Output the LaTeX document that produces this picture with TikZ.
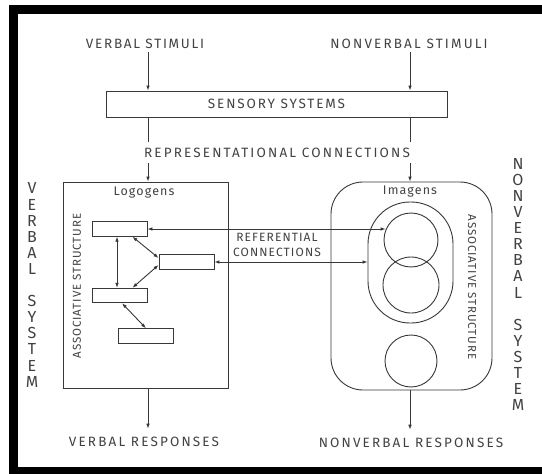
\documentclass[tikz,border=0pt]{standalone}
\usepackage{fontspec}
\setmainfont{Fira Sans}
\newfontfamily\fsSpaced[LetterSpace=16]{Fira Sans}
\newfontfamily\fsWide[LetterSpace=14]{Fira Sans}
\newfontfamily\fsMid[LetterSpace=13]{Fira Sans}
\newfontfamily\fsLite[LetterSpace=9]{Fira Sans}
\newfontfamily\fsTight[LetterSpace=8]{Fira Sans}
\usetikzlibrary{arrows.meta,calc}
\definecolor{ink}{gray}{0.22}
\definecolor{txtc}{gray}{0.26}
\begin{document}
\begin{tikzpicture}[x=1pt,y=-1pt,
  line width=0.9pt,
  every node/.style={text=txtc},
  txt/.style={font=\fsSpaced\fontsize{13.5}{15}\selectfont, inner sep=3pt},
  small/.style={font=\fsLite\fontsize{12.5}{13}\selectfont, inner sep=2pt},
  rot/.style={font=\fsTight\fontsize{11.5}{13}\selectfont, inner sep=2pt},
  letters/.style={font=\fontsize{16}{16.1}\selectfont, inner sep=0pt, align=center},
  box/.style={draw=ink, inner sep=0pt},
  sbox/.style={draw=ink, minimum width=55pt, minimum height=14.5pt, inner sep=0pt},
  ring/.style={draw=ink, circle, inner sep=0pt},
  tip/.style={-{Latex[length=5pt,width=3.6pt]}},
  dtip/.style={{Latex[length=5pt,width=3.6pt]}-{Latex[length=5pt,width=3.6pt]}},
]
\useasboundingbox (0,0) rectangle (542,474);
\fill[white] (0,0) rectangle (542,474);
% frame
\draw[line width=9pt, black] (13,9.5) rectangle (560,471);

\coordinate (lx) at (148,0);
\coordinate (rx) at (410,0);

% top
\node[txt, font=\fsMid\fontsize{13.5}{15}\selectfont] (vs) at (145,44) {VERBAL STIMULI};
\node[txt] (nvs) at (409,44) {NONVERBAL STIMULI};
\node[box, minimum width=341pt, minimum height=26pt, font=\fsWide\fontsize{13.5}{15}\selectfont] (ss) at (276.5,104) {SENSORY SYSTEMS};
\node[txt, inner ysep=5.5pt] (rc) at (277,152.5) {REPRESENTATIONAL CONNECTIONS};

% verbal system
\node[box, minimum width=165pt, minimum height=206pt] (vb) at (145.5,285) {};
\node[small] (logo) at (144,193) {Logogens};
\node[rot, rotate=90] (asl) at (77,286) {ASSOCIATIVE STRUCTURE};
\node[sbox] (A) at (119.5,229) {};
\node[sbox] (B) at (186.5,262) {};
\node[sbox] (C) at (119.5,295.5) {};
\node[sbox] (D) at (146,336) {};

% nonverbal system
\node[box, rounded corners=32pt, minimum width=161pt, minimum height=208pt] (nb) at (411.5,286) {};
\node[box, rounded corners=42pt, minimum width=85pt, minimum height=121pt] (ov) at (410.5,262.5) {};
\node[ring, minimum size=54pt] (c1) at (411,240) {};
\node[ring, minimum size=56pt] (c2) at (411,285) {};
\node[ring, minimum size=52pt] (c3) at (411,361) {};
\node[small] (img) at (410,192) {Imagens};
\node[rot, rotate=-90] (asr) at (472,287) {ASSOCIATIVE STRUCTURE};

% referential label
\node[txt, align=center, font=\fsLite\fontsize{12}{15}\selectfont] (ref) at (277,244.5) {REFERENTIAL\\CONNECTIONS};

% responses
\node[txt] (vr) at (144,442) {VERBAL RESPONSES};
\node[txt] (nvr) at (411,443) {NONVERBAL RESPONSES};

% side labels
\node[letters] (vsys) at (32,285) {V\\E\\R\\B\\A\\L\\[16.1pt]S\\Y\\S\\T\\E\\M};
\node[letters] (nsys) at (518,284.5) {N\\O\\N\\V\\E\\R\\B\\A\\L\\[16.1pt]S\\Y\\S\\T\\E\\M};

% connectors
\begin{scope}[draw=ink]
\draw[tip] (vs.south -| lx) -- (ss.north -| lx);
\draw[tip] (nvs.south -| rx) -- (ss.north -| rx);
\draw (ss.south -| lx) -- (rc.north -| lx);
\draw (ss.south -| rx) -- (rc.north -| rx);
\draw[tip] (rc.south -| lx) -- (vb.north -| lx);
\draw[tip] (rc.south -| rx) -- (nb.north -| rx);
\draw[tip, shorten >=5pt] (vb.south -| lx) -- (vr.north -| lx);
\draw[tip, shorten >=5pt] (nb.south -| rx) -- (nvr.north -| rx);

\draw[dtip] ([xshift=-2.5pt]A.south) -- ([xshift=-2.5pt]C.north);
\draw[dtip] ([xshift=-15pt]A.south east) -- ([yshift=4pt]B.west);
\draw[dtip] ([yshift=-3pt]B.west) -- ([xshift=-15pt]C.north east);
\draw[dtip] ([xshift=2.5pt]C.south) -- (D.north);

\draw[dtip] (A.east) -- (A.east -| c1.158);
\draw[dtip] (B.east) -- (B.east -| ov.west);
\end{scope}
\end{tikzpicture}
\end{document}
